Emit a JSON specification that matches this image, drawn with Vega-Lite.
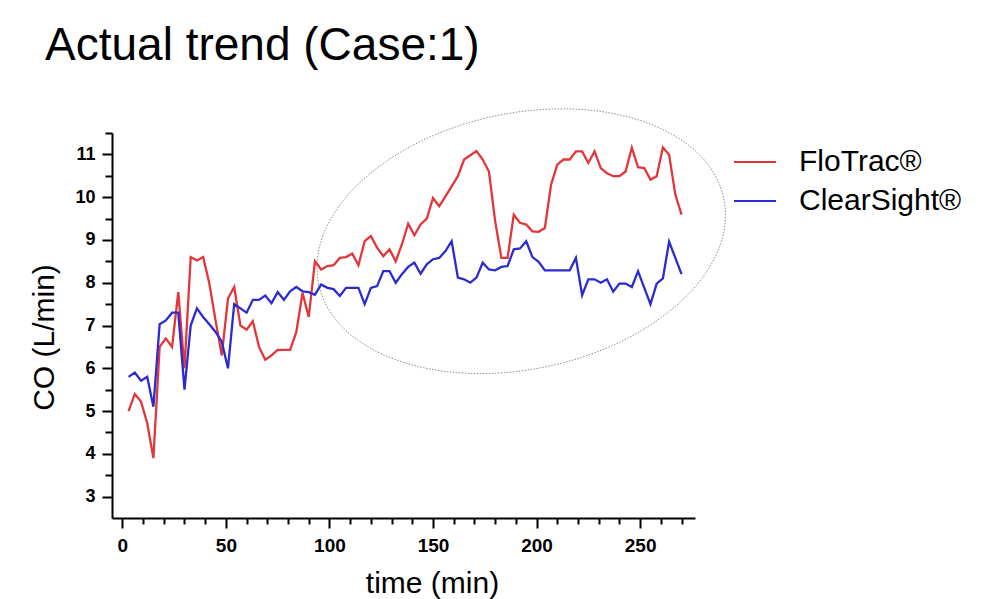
{
  "$schema": "https://vega.github.io/schema/vega-lite/v6.json",
  "width": 583,
  "height": 385,
  "autosize": "none",
  "padding": {"left": 112, "top": 133, "right": 296, "bottom": 81},
  "title": {"text": "Actual trend (Case:1)", "anchor": "start", "frame": "group", "dx": -67, "offset": 1, "baseline": "alphabetic", "font": "Liberation Sans", "fontSize": 46, "fontWeight": "normal", "color": "black"},
  "config": {"view": {"stroke": null}, "font": "Liberation Sans"},
  "resolve": {"axis": {"x": "independent", "y": "independent"}},
  "datasets": {
    "co": [
      {"t":3,"device":"FloTrac®","co":5.0},{"t":6,"device":"FloTrac®","co":5.4},{"t":9,"device":"FloTrac®","co":5.22},{"t":12,"device":"FloTrac®","co":4.72},{"t":15,"device":"FloTrac®","co":3.9},
      {"t":18,"device":"FloTrac®","co":6.5},{"t":21,"device":"FloTrac®","co":6.7},{"t":24,"device":"FloTrac®","co":6.5},{"t":27,"device":"FloTrac®","co":7.78},{"t":30,"device":"FloTrac®","co":6.0},
      {"t":33,"device":"FloTrac®","co":8.6},{"t":36,"device":"FloTrac®","co":8.52},{"t":39,"device":"FloTrac®","co":8.6},{"t":42,"device":"FloTrac®","co":7.98},{"t":45,"device":"FloTrac®","co":7.12},
      {"t":48,"device":"FloTrac®","co":6.3},{"t":51,"device":"FloTrac®","co":7.63},{"t":54,"device":"FloTrac®","co":7.9},{"t":57,"device":"FloTrac®","co":7.0},{"t":60,"device":"FloTrac®","co":6.9},
      {"t":63,"device":"FloTrac®","co":7.1},{"t":66,"device":"FloTrac®","co":6.5},{"t":69,"device":"FloTrac®","co":6.2},{"t":72,"device":"FloTrac®","co":6.3},{"t":75,"device":"FloTrac®","co":6.43},
      {"t":78,"device":"FloTrac®","co":6.43},{"t":81,"device":"FloTrac®","co":6.43},{"t":84,"device":"FloTrac®","co":6.85},{"t":87,"device":"FloTrac®","co":7.76},{"t":90,"device":"FloTrac®","co":7.2},
      {"t":93,"device":"FloTrac®","co":8.5},{"t":96,"device":"FloTrac®","co":8.31},{"t":99,"device":"FloTrac®","co":8.39},{"t":102,"device":"FloTrac®","co":8.41},{"t":105,"device":"FloTrac®","co":8.58},
      {"t":108,"device":"FloTrac®","co":8.6},{"t":111,"device":"FloTrac®","co":8.68},{"t":114,"device":"FloTrac®","co":8.41},{"t":117,"device":"FloTrac®","co":8.97},{"t":120,"device":"FloTrac®","co":9.09},
      {"t":123,"device":"FloTrac®","co":8.82},{"t":126,"device":"FloTrac®","co":8.62},{"t":129,"device":"FloTrac®","co":8.78},{"t":132,"device":"FloTrac®","co":8.5},{"t":135,"device":"FloTrac®","co":8.9},
      {"t":138,"device":"FloTrac®","co":9.38},{"t":141,"device":"FloTrac®","co":9.11},{"t":144,"device":"FloTrac®","co":9.36},{"t":147,"device":"FloTrac®","co":9.5},{"t":150,"device":"FloTrac®","co":9.98},
      {"t":153,"device":"FloTrac®","co":9.79},{"t":156,"device":"FloTrac®","co":10.02},{"t":159,"device":"FloTrac®","co":10.25},{"t":162,"device":"FloTrac®","co":10.49},{"t":165,"device":"FloTrac®","co":10.88},
      {"t":168,"device":"FloTrac®","co":10.98},{"t":171,"device":"FloTrac®","co":11.08},{"t":174,"device":"FloTrac®","co":10.88},{"t":177,"device":"FloTrac®","co":10.6},{"t":180,"device":"FloTrac®","co":9.44},
      {"t":183,"device":"FloTrac®","co":8.58},{"t":186,"device":"FloTrac®","co":8.58},{"t":189,"device":"FloTrac®","co":9.59},{"t":192,"device":"FloTrac®","co":9.4},{"t":195,"device":"FloTrac®","co":9.36},
      {"t":198,"device":"FloTrac®","co":9.2},{"t":201,"device":"FloTrac®","co":9.19},{"t":204,"device":"FloTrac®","co":9.28},{"t":207,"device":"FloTrac®","co":10.29},{"t":210,"device":"FloTrac®","co":10.76},
      {"t":213,"device":"FloTrac®","co":10.88},{"t":216,"device":"FloTrac®","co":10.88},{"t":219,"device":"FloTrac®","co":11.07},{"t":222,"device":"FloTrac®","co":11.07},{"t":225,"device":"FloTrac®","co":10.8},
      {"t":228,"device":"FloTrac®","co":11.07},{"t":231,"device":"FloTrac®","co":10.68},{"t":234,"device":"FloTrac®","co":10.56},{"t":237,"device":"FloTrac®","co":10.49},{"t":240,"device":"FloTrac®","co":10.49},
      {"t":243,"device":"FloTrac®","co":10.6},{"t":246,"device":"FloTrac®","co":11.16},{"t":249,"device":"FloTrac®","co":10.7},{"t":252,"device":"FloTrac®","co":10.68},{"t":255,"device":"FloTrac®","co":10.41},
      {"t":258,"device":"FloTrac®","co":10.49},{"t":261,"device":"FloTrac®","co":11.16},{"t":264,"device":"FloTrac®","co":10.99},{"t":267,"device":"FloTrac®","co":10.06},{"t":270,"device":"FloTrac®","co":9.59},
      {"t":3,"device":"ClearSight®","co":5.8},{"t":6,"device":"ClearSight®","co":5.9},{"t":9,"device":"ClearSight®","co":5.71},{"t":12,"device":"ClearSight®","co":5.8},{"t":15,"device":"ClearSight®","co":5.1},
      {"t":18,"device":"ClearSight®","co":7.03},{"t":21,"device":"ClearSight®","co":7.12},{"t":24,"device":"ClearSight®","co":7.3},{"t":27,"device":"ClearSight®","co":7.3},{"t":30,"device":"ClearSight®","co":5.5},
      {"t":33,"device":"ClearSight®","co":7.0},{"t":36,"device":"ClearSight®","co":7.4},{"t":39,"device":"ClearSight®","co":7.2},{"t":42,"device":"ClearSight®","co":7.03},{"t":45,"device":"ClearSight®","co":6.85},
      {"t":48,"device":"ClearSight®","co":6.62},{"t":51,"device":"ClearSight®","co":6.0},{"t":54,"device":"ClearSight®","co":7.5},{"t":57,"device":"ClearSight®","co":7.4},{"t":60,"device":"ClearSight®","co":7.3},
      {"t":63,"device":"ClearSight®","co":7.6},{"t":66,"device":"ClearSight®","co":7.6},{"t":69,"device":"ClearSight®","co":7.7},{"t":72,"device":"ClearSight®","co":7.52},{"t":75,"device":"ClearSight®","co":7.78},
      {"t":78,"device":"ClearSight®","co":7.6},{"t":81,"device":"ClearSight®","co":7.8},{"t":84,"device":"ClearSight®","co":7.9},{"t":87,"device":"ClearSight®","co":7.8},{"t":90,"device":"ClearSight®","co":7.78},
      {"t":93,"device":"ClearSight®","co":7.72},{"t":96,"device":"ClearSight®","co":7.96},{"t":99,"device":"ClearSight®","co":7.88},{"t":102,"device":"ClearSight®","co":7.85},{"t":105,"device":"ClearSight®","co":7.69},
      {"t":108,"device":"ClearSight®","co":7.88},{"t":111,"device":"ClearSight®","co":7.88},{"t":114,"device":"ClearSight®","co":7.88},{"t":117,"device":"ClearSight®","co":7.5},{"t":120,"device":"ClearSight®","co":7.88},
      {"t":123,"device":"ClearSight®","co":7.92},{"t":126,"device":"ClearSight®","co":8.27},{"t":129,"device":"ClearSight®","co":8.27},{"t":132,"device":"ClearSight®","co":8.0},{"t":135,"device":"ClearSight®","co":8.2},
      {"t":138,"device":"ClearSight®","co":8.37},{"t":141,"device":"ClearSight®","co":8.47},{"t":144,"device":"ClearSight®","co":8.21},{"t":147,"device":"ClearSight®","co":8.43},{"t":150,"device":"ClearSight®","co":8.55},
      {"t":153,"device":"ClearSight®","co":8.58},{"t":156,"device":"ClearSight®","co":8.74},{"t":159,"device":"ClearSight®","co":8.97},{"t":162,"device":"ClearSight®","co":8.12},{"t":165,"device":"ClearSight®","co":8.08},
      {"t":168,"device":"ClearSight®","co":8.0},{"t":171,"device":"ClearSight®","co":8.12},{"t":174,"device":"ClearSight®","co":8.47},{"t":177,"device":"ClearSight®","co":8.31},{"t":180,"device":"ClearSight®","co":8.29},
      {"t":183,"device":"ClearSight®","co":8.37},{"t":186,"device":"ClearSight®","co":8.39},{"t":189,"device":"ClearSight®","co":8.78},{"t":192,"device":"ClearSight®","co":8.8},{"t":195,"device":"ClearSight®","co":8.97},
      {"t":198,"device":"ClearSight®","co":8.6},{"t":201,"device":"ClearSight®","co":8.49},{"t":204,"device":"ClearSight®","co":8.29},{"t":207,"device":"ClearSight®","co":8.29},{"t":210,"device":"ClearSight®","co":8.29},
      {"t":213,"device":"ClearSight®","co":8.29},{"t":216,"device":"ClearSight®","co":8.29},{"t":219,"device":"ClearSight®","co":8.58},{"t":222,"device":"ClearSight®","co":7.71},{"t":225,"device":"ClearSight®","co":8.08},
      {"t":228,"device":"ClearSight®","co":8.08},{"t":231,"device":"ClearSight®","co":8.0},{"t":234,"device":"ClearSight®","co":8.08},{"t":237,"device":"ClearSight®","co":7.79},{"t":240,"device":"ClearSight®","co":7.98},
      {"t":243,"device":"ClearSight®","co":7.98},{"t":246,"device":"ClearSight®","co":7.9},{"t":249,"device":"ClearSight®","co":8.27},{"t":252,"device":"ClearSight®","co":7.88},{"t":255,"device":"ClearSight®","co":7.5},
      {"t":258,"device":"ClearSight®","co":7.98},{"t":261,"device":"ClearSight®","co":8.1},{"t":264,"device":"ClearSight®","co":8.96},{"t":267,"device":"ClearSight®","co":8.58},{"t":270,"device":"ClearSight®","co":8.2}
    ],
    "ellipse": [{"t": 192.6, "co": 8.97}]
  },
  "layer": [
    {
      "data": {"name": "ellipse"},
      "mark": {"type": "point", "shape": "M -1 0 A 1 0.618 0 1 1 1 0 A 1 0.618 0 1 1 -1 0 Z", "size": 171396, "angle": -12, "filled": false, "fill": null, "stroke": "#8a8a8a", "strokeWidth": 0.9, "strokeDash": [1.5, 1.5], "opacity": 1},
      "encoding": {
        "x": {"field": "t", "type": "quantitative", "axis": null},
        "y": {"field": "co", "type": "quantitative", "axis": null}
      }
    },
    {
      "data": {"name": "co"},
      "mark": {"type": "line", "strokeOpacity": 0},
      "encoding": {
        "detail": {"field": "device"},
        "x": {
          "field": "t", "type": "quantitative",
          "axis": {
            "orient": "bottom",
            "values": [10,20,30,40,60,70,80,90,110,120,130,140,160,170,180,190,210,220,230,240,260,270],
            "labels": false, "domain": false, "grid": false, "title": null,
            "tickColor": "black", "tickWidth": 2, "tickSize": 6
          }
        },
        "y": {
          "field": "co", "type": "quantitative",
          "axis": {
            "orient": "left",
            "values": [3.5,4.5,5.5,6.5,7.5,8.5,9.5,10.5,11.5],
            "labels": false, "domain": false, "grid": false, "title": null,
            "tickColor": "black", "tickWidth": 2, "tickSize": 7
          }
        }
      }
    },
    {
      "data": {"name": "co"},
      "mark": {"type": "line", "strokeWidth": 2.3},
      "encoding": {
        "x": {
          "field": "t", "type": "quantitative",
          "scale": {"domain": [-5, 276.5], "nice": false, "zero": false},
          "axis": {
            "orient": "bottom",
            "values": [0,50,100,150,200,250],
            "labelOverlap": false,
            "grid": false, "domainColor": "black", "domainWidth": 2, "tickColor": "black", "tickWidth": 2, "tickSize": 10,
            "labelFont": "Liberation Sans", "labelFontWeight": "bold", "labelFontSize": 19, "labelColor": "black", "labelPadding": 8,
            "title": "time (min)", "titleFont": "Liberation Sans", "titleFontSize": 30, "titleFontWeight": "normal", "titleColor": "black",
            "titleX": 320, "titleY": 74, "titleBaseline": "alphabetic", "titleAlign": "center"
          }
        },
        "y": {
          "field": "co", "type": "quantitative",
          "scale": {"domain": [2.5, 11.5], "nice": false, "zero": false},
          "axis": {
            "orient": "left",
            "values": [3,4,5,6,7,8,9,10,11],
            "labelOverlap": false,
            "grid": false, "domainColor": "black", "domainWidth": 2, "tickColor": "black", "tickWidth": 2, "tickSize": 10,
            "labelFont": "Liberation Sans", "labelFontWeight": "bold", "labelFontSize": 18, "labelColor": "black", "labelPadding": 7,
            "title": "CO (L/min)", "titleFont": "Liberation Sans", "titleFontSize": 30, "titleFontWeight": "normal", "titleColor": "black",
            "titleX": -59, "titleY": 204, "titleBaseline": "alphabetic", "titleAlign": "center", "titleAngle": -90
          }
        },
        "color": {
          "field": "device", "type": "nominal",
          "scale": {"domain": ["FloTrac®", "ClearSight®"], "range": ["#e2363b", "#2b2bcf"]},
          "legend": {"orient": "none", "legendX": 621, "legendY": 7, "title": null, "symbolType": "stroke", "symbolSize": 1764, "symbolStrokeWidth": 2, "labelFont": "Liberation Sans", "labelFontSize": 30, "labelColor": "black", "labelOffset": 22, "labelLimit": 400, "rowPadding": 2}
        }
      }
    }
  ]
}
